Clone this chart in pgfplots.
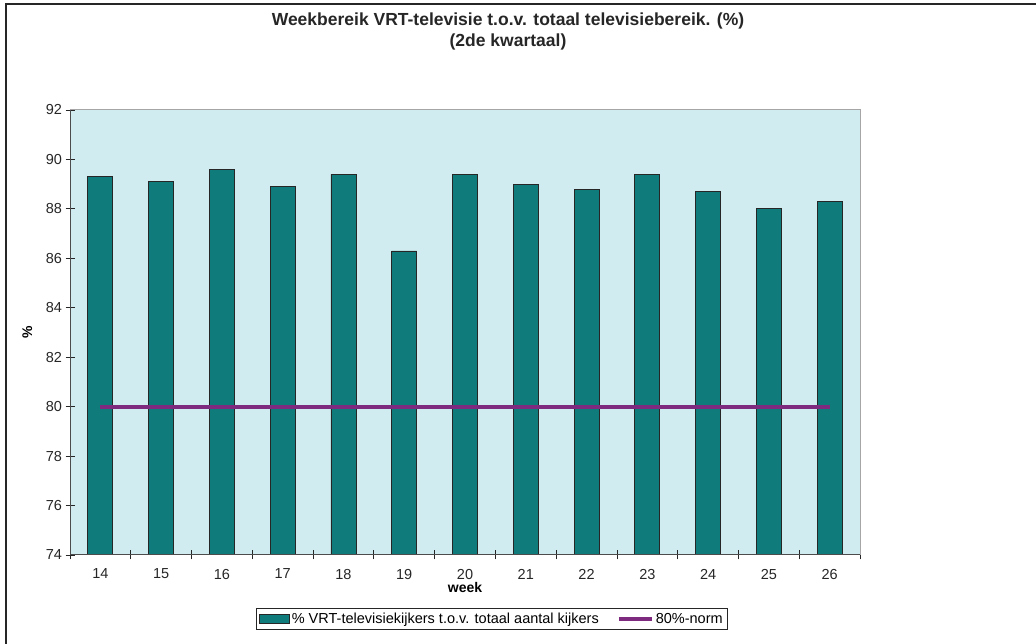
\documentclass[border=0pt]{standalone}
\usepackage{pgfplots}
\pgfplotsset{compat=1.18}
\usepackage{fontspec}
\setmainfont{Liberation Sans}
\definecolor{bg}{HTML}{D0ECF0}
\definecolor{tealbar}{HTML}{0F7B7B}
\definecolor{purp}{HTML}{7E2A7E}
\pgfplotsset{
  barlegend/.style={legend image code/.code={\draw[##1] (0bp,-4.5bp) rectangle (30bp,4.5bp);}},
  linelegend/.style={legend image code/.code={\draw[##1] (0bp,0bp) -- (33bp,0bp);}},
}
\begin{document}
\begin{tikzpicture}[x=1bp,y=1bp]
\path[use as bounding box] (0,0) rectangle (1036,644);
\draw[line width=1.3bp, black!85] (6,0) -- (6,640) -- (1036,640);
\node[font=\bfseries\fontsize{17.5bp}{21bp}\selectfont, align=center, text=black!85] at (508,612.5)
  {Weekbereik VRT-televisie t.o.v. totaal televisiebereik. (\%)\\(2de kwartaal)};
\begin{axis}[
  at={(70bp,89bp)}, anchor=south west,
  width=790bp, height=445bp, scale only axis,
  xmin=13.5, xmax=26.5, ymin=74, ymax=92,
  xtick={14,...,26}, ytick={74,76,...,92},
  minor xtick={13.5,14.5,...,26.5},
  major x tick style={draw=none},
  xtick pos=bottom, ytick pos=left,
  tick align=center,
  major tick length=9bp, minor tick length=9bp,
  tick style={black!85, line width=0.8bp},
  axis line style={draw=black!35, line width=1bp},
  axis background/.style={fill=bg},
  font=\fontsize{14.5bp}{16bp}\selectfont,
  ticklabel style={text=black!85},
  xticklabel style={yshift=-6bp},
  yticklabel style={xshift=0bp},
  /pgf/number format/assume math mode=true,
  xlabel={\textbf{week}},
  xlabel style={at={(axis description cs:0.5,-0.073)}, anchor=center, font=\bfseries\fontsize{14bp}{15bp}\selectfont},
  ylabel={\textbf{\%}},
  ylabel style={at={(axis description cs:-0.054,0.5)}, anchor=center, rotate=0, font=\bfseries\fontsize{14bp}{15bp}\selectfont},
  legend style={at={(0.534,-0.119)}, anchor=north, legend columns=2,
    draw=black!85, line width=0.8bp, fill=white, inner sep=2.5bp,
    font=\fontsize{14.5bp}{16bp}\selectfont,
    /tikz/every even column/.append style={column sep=16bp}},
  legend cell align=left,
]
\addplot[ybar, bar width=25bp, fill=tealbar, draw=black!85, line width=0.8bp, barlegend]
  coordinates {(14,89.3) (15,89.1) (16,89.6) (17,88.9) (18,89.4) (19,86.3) (20,89.4)
               (21,89.0) (22,88.8) (23,89.4) (24,88.7) (25,88.0) (26,88.3)};
\addlegendentry{\% VRT-televisiekijkers t.o.v. totaal aantal kijkers}
\addplot[purp, line width=4bp, no marks, linelegend]
  coordinates {(14,80) (15,80) (16,80) (17,80) (18,80) (19,80) (20,80)
               (21,80) (22,80) (23,80) (24,80) (25,80) (26,80)};
\addlegendentry{80\%-norm}
\draw[black!70, line width=1.2bp] (rel axis cs:0,1) -- (rel axis cs:0,0) -- (rel axis cs:1,0);
\end{axis}
\end{tikzpicture}
\end{document}
